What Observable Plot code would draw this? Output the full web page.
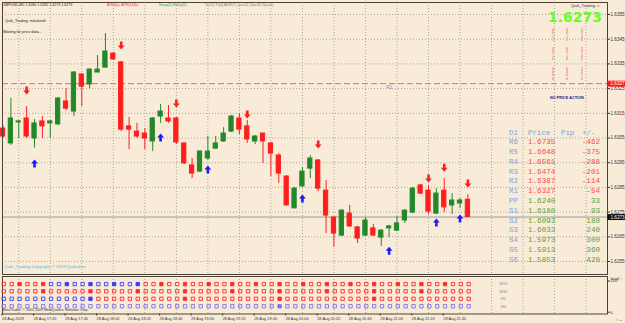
<!DOCTYPE html>
<html><head><meta charset="utf-8">
<script src="https://cdn.jsdelivr.net/npm/d3@7"></script>
<script src="https://cdn.jsdelivr.net/npm/@observablehq/plot@0.6"></script>
<style>
html,body{margin:0;padding:0;background:#f8ecd8;}
#wrap{position:relative;width:625px;height:323px;overflow:hidden;background:#f8ecd8;
 font-family:"Liberation Sans",Arial,sans-serif;}
#wrap svg{position:absolute;left:0;}
.t{position:absolute;white-space:nowrap;line-height:1;}
.m{font-family:"Liberation Mono","DejaVu Sans Mono",monospace;}
</style></head><body><div id="wrap"></div>
<script>
// ---------- data (GBPUSD M5, 28 Aug 2009 17:00 .. 21:55) ----------
const opens  = [1.63088,1.63028,1.63113,1.63129,1.63048,1.63117,1.63109,1.63105,1.63198,1.63157,
                1.63307,1.63267,1.63315,1.63335,1.63392,1.63356,1.63097,1.63076,1.63068,1.63036,
                1.63137,1.63129,1.63129,1.63028,1.62939,1.62914,1.62967,1.63007,1.63036,1.63076,
                1.63129,1.63097,1.63036,1.63068,1.63028,1.62979,1.62894,1.62765,1.62854,1.62926,
                1.62959,1.62837,1.62728,1.62655,1.62744,1.62688,1.62655,1.62684,1.62647,1.62684,
                1.62675,1.62716,1.62748,1.62858,1.62837,1.62744,1.62837,1.62777,1.62785,1.6280];
const highs  = [1.63101,1.63210,1.63121,1.63177,1.63125,1.63137,1.63121,1.63214,1.63250,1.63319,
                1.63311,1.63331,1.63384,1.63473,1.63396,1.63360,1.63133,1.63109,1.63088,1.63133,
                1.63186,1.63182,1.63133,1.63028,1.62967,1.62999,1.63056,1.63056,1.63092,1.63141,
                1.63149,1.63121,1.63060,1.63068,1.63032,1.62987,1.62898,1.62850,1.62930,1.62979,
                1.62963,1.62878,1.62732,1.62760,1.62777,1.62692,1.62728,1.62700,1.62679,1.62696,
                1.62732,1.62760,1.62850,1.62862,1.62858,1.62845,1.62886,1.62825,1.62805,1.6282];
const lows   = [1.63048,1.63020,1.63048,1.63048,1.63009,1.63048,1.63048,1.63101,1.63161,1.63137,
                1.63177,1.63250,1.63315,1.63335,1.63364,1.63076,1.63003,1.63048,1.63003,1.62995,
                1.63109,1.63109,1.63024,1.62943,1.62886,1.62910,1.62959,1.63007,1.63032,1.63072,
                1.63064,1.63028,1.63024,1.62947,1.62894,1.62866,1.62773,1.62765,1.62850,1.62886,
                1.62833,1.62663,1.62607,1.62651,1.62688,1.62623,1.62651,1.62651,1.62611,1.62647,
                1.62671,1.62704,1.62744,1.62821,1.62740,1.62740,1.62748,1.62740,1.62765,1.6273];
const closes = [1.63056,1.63129,1.63117,1.63056,1.63109,1.63097,1.63117,1.63210,1.63169,1.63315,
                1.63258,1.63327,1.63327,1.63400,1.63368,1.63084,1.63084,1.63056,1.63048,1.63129,
                1.63157,1.63117,1.63032,1.62947,1.62906,1.62995,1.62995,1.63028,1.63068,1.63137,
                1.63084,1.63044,1.63056,1.63036,1.62987,1.62906,1.62777,1.62845,1.62914,1.62967,
                1.62845,1.62736,1.62663,1.62756,1.62692,1.62643,1.62716,1.62655,1.62675,1.62692,
                1.62704,1.62756,1.62845,1.62825,1.62752,1.62825,1.62769,1.62797,1.62797,1.6273];

const downArrowBars = [3,15,22,31,40,54,56,59];
const downArrowY    = [1.63242,1.63424,1.63190,1.63145,1.63024,1.62886,1.62930,1.62866];
const upArrowBars   = [4,20,26,38,49,55,58];
const upArrowY      = [1.62947,1.63052,1.62922,1.62805,1.62594,1.62708,1.62724];

const priceTicks = [1.6255,1.6265,1.6275,1.6285,1.6295,1.6305,1.6315,1.6325,1.6335,1.6345,1.6355];
const gridBars   = [2,6,10,14,18,22,26,30,34,38,42,46,50,54,58,62,66,70,74];
const timeTickBars = [0,4,8,12,16,20,24,28,32,36,40,44,48,52,56];
const timeLabels = ["28 Aug 2009","28 Aug 17:20","28 Aug 17:40","28 Aug 18:00","28 Aug 18:20",
  "28 Aug 18:40","28 Aug 19:00","28 Aug 19:20","28 Aug 19:40","28 Aug 20:00","28 Aug 20:20",
  "28 Aug 20:40","28 Aug 21:00","28 Aug 21:20","28 Aug 21:40"];

const R1 = 1.6327, R1LabelBar = 49;
const lastPrice = 1.6273;

// pivot table
const pivotNames  = ["R6","R5","R4","R3","R2","R1","PP","S1","S2","S3","S4","S5","S6"];
const pivotPrices = ["1.6735","1.6648","1.6561","1.6474","1.6387","1.6327","1.6240","1.6180","1.6093","1.6033","1.5973","1.5913","1.5853"];
const pivotPips   = [-462,-375,-288,-201,-114,-54,33,93,180,240,300,360,420];

// lower panel (time-frame boxes)
const tfRows   = ["M15","M30","H1","H4"];
const tfLevels = [90,67,43,19];
const tfColors = [
  "RRRRRRBBBBBBBBBBBBRRRRRRRRRRRRRRRRRRRRRRRRRRRRRRRRRRRRRRRRRR",
  "RRRRRRRRRRRRRRRRRRRRRRRRRRRRRRRRRRRRRRRRRRRRRRRRRRRRRRRRRRRR",
  "BBBBBBBBBBBBRRRRRRRRRRRRRRRRRRRRRRRRRRRRRRRRRRRRRRRRRRRRRRRR",
  "LLLLLLLLLLLLLLLLLLLLLLLLLLLLLLLLLLLLLLLLLLLLLLLLLLLLLLLLLLLL"];
const tfFilled = [
  [2,5,8,11,14,17,20,23,26,29,32,35,38,41,44,47,50,53,56],
  [5,11,17,23,29,35,41,47,53],
  [11,23,35,47],
  [35]];

// ---------- build ----------
const wrap = document.getElementById("wrap");
const GREEN = "#23882a", RED = "#ff1e1e", BLUE = "#1a1aff";
const GRID = "#aaa49b";
const candles = closes.map((c,i)=>({i, open:opens[i], high:highs[i], low:lows[i], close:c, up:c>=opens[i]}));
const downs = downArrowBars.map((b,k)=>({i:b, p:downArrowY[k]}));
const ups = upArrowBars.map((b,k)=>({i:b, p:upArrowY[k]}));

const X0 = 2.5, X59 = 467.4;             // layout of bar axis
const xInv = px => (px - X0) * 59 / (X59 - X0);
const tagX1 = xInv(607.5), tagX2 = xInv(625);

const arrowDown = {draw(ctx, size){ const s=Math.sqrt(size/Math.PI)/3.5;
  ctx.moveTo(-1.3*s,-4*s); ctx.lineTo(1.3*s,-4*s); ctx.lineTo(1.3*s,0); ctx.lineTo(3.4*s,0);
  ctx.lineTo(0,4*s); ctx.lineTo(-3.4*s,0); ctx.lineTo(-1.3*s,0); ctx.closePath(); }};
const arrowUp = {draw(ctx, size){ const s=Math.sqrt(size/Math.PI)/3.5;
  ctx.moveTo(-1.3*s,4*s); ctx.lineTo(1.3*s,4*s); ctx.lineTo(1.3*s,0); ctx.lineTo(3.4*s,0);
  ctx.lineTo(0,-4*s); ctx.lineTo(-3.4*s,0); ctx.lineTo(-1.3*s,0); ctx.closePath(); }};

const font = "Liberation Sans, Arial, sans-serif";
const main = Plot.plot({
  width:625, height:323, marginTop:2, marginLeft:2, marginRight:18, marginBottom:49,
  style:{background:"transparent", fontFamily:font, overflow:"visible"},
  x:{domain:[0,59], range:[X0,X59], axis:null},
  y:{domain:[1.6255,1.6355], range:[261,14], axis:null},
  marks:[
    Plot.ruleY(priceTicks, {stroke:GRID, strokeDasharray:"1,2"}),
    Plot.ruleX(gridBars, {stroke:GRID, strokeDasharray:"1,2"}),
    Plot.ruleY([R1], {stroke:"#ec6a52", strokeDasharray:"6,3"}),
    Plot.ruleY([lastPrice], {stroke:"#9a9896"}),
    Plot.ruleX(candles, {x:"i", y1:"low", y2:"high", stroke:d=>d.up?GREEN:RED, strokeWidth:1}),
    Plot.rect(candles, {x1:d=>d.i-0.27, x2:d=>d.i+0.27, y1:"open", y2:"close",
      fill:d=>d.up?GREEN:RED, stroke:d=>d.up?GREEN:RED, strokeWidth:1}),
    Plot.dot(downs, {x:"i", y:"p", symbol:arrowDown, r:3.5, fill:RED, stroke:"none"}),
    Plot.dot(ups, {x:"i", y:"p", symbol:arrowUp, r:3.5, fill:BLUE, stroke:"none"}),
    Plot.text(["R1"], {x:R1LabelBar, y:R1, text:d=>d, dy:4, fill:"#5b8fd6", fontSize:4.5}),
    Plot.frame({stroke:"#4e4238"}),
    Plot.axisY(priceTicks, {anchor:"right", tickSize:2, tickPadding:1, fontSize:4.6,
      tickFormat:d=>d.toFixed(4), color:"#333"}),
    Plot.ruleY([R1], {x1:tagX1, x2:tagX2, stroke:"#ff1a1a", strokeWidth:6}),
    Plot.text([R1], {x:tagX1, y:d=>d, text:d=>d.toFixed(4), textAnchor:"start", dx:2.5, fill:"white", fontSize:4.6}),
    Plot.ruleY([lastPrice], {x1:tagX1, x2:tagX2, stroke:"#111", strokeWidth:6}),
    Plot.text([lastPrice], {x:tagX1, y:d=>d, text:d=>d.toFixed(4), textAnchor:"start", dx:2.5, fill:"white", fontSize:4.6})
  ]
});
main.style.top = "0px";
wrap.appendChild(main);

const squares = [];
tfRows.forEach((row,r)=>{
  for (let i=0;i<tfColors[r].length;i++){
    const c = tfColors[r][i];
    const col = c==="R" ? "#ff2a2a" : c==="B" ? "#3a3aff" : "#7a72f0";
    squares.push({i, level:tfLevels[r], col, filled:tfFilled[r].includes(i)});
  }
});
const sub = Plot.plot({
  width:625, height:49, marginTop:2, marginLeft:2, marginRight:18, marginBottom:9.5,
  style:{background:"transparent", fontFamily:font, overflow:"visible"},
  x:{domain:[0,59], range:[X0,X59], axis:null},
  y:{domain:[0,100], range:[37.7,6.5], axis:null},
  marks:[
    Plot.ruleX(gridBars, {stroke:GRID, strokeDasharray:"1,2"}),
    Plot.frame({stroke:"#4e4238"}),
    Plot.dot(squares, {x:"i", y:"level", symbol:"square", r:1.9, dx:0.8,
      stroke:"col", fill:d=>d.filled?d.col:"none", strokeWidth:0.9}),
    Plot.text(tfRows, {x:63.5, y:(d,k)=>tfLevels[k], text:d=>d, fill:"#8d8d8d", fontSize:4.2}),
    Plot.axisY([0,100], {anchor:"right", tickSize:2, tickPadding:1, fontSize:4.2, color:"#333"}),
    Plot.axisX(timeTickBars, {anchor:"bottom", tickSize:2, tickPadding:1, textAnchor:"start", dx:-1,
      fontSize:3.9, tickFormat:d=>timeLabels[timeTickBars.indexOf(d)], color:"#333"})
  ]
});
sub.style.top = "274px";
wrap.appendChild(sub);

// ---------- text overlays ----------
function T(txt, x, yc, size, color, cls, extra){
  const d = document.createElement("div");
  d.className = "t" + (cls?(" "+cls):"");
  d.textContent = txt;
  d.style.left = x+"px"; d.style.top = (yc - size*0.55)+"px";
  d.style.fontSize = size+"px"; d.style.color = color;
  if (extra) Object.assign(d.style, extra);
  wrap.appendChild(d); return d;
}
T("GBPUSD,M5  1.6280 1.6282 1.6273 1.6273", 3, 5.5, 3.6, "#222");
T("ATR(6)=  ATR(144)=", 107, 5.5, 3.6, "#ff2a2a");
T("Reup(5)  ReDp(5)", 159, 5.5, 3.6, "#2f9a2f");
T("Tr(12)  Tr(4)  ADR(7)  1(avr5)  1(avr3)  2(avr5)", 205, 5.5, 3.6, "#777");
T("Quik_Trading: initialized", 5, 22.5, 3.8, "#222");
T("Waiting for price data...", 3, 33.5, 3.8, "#222");
T("Quik_Trading \u263A", 571, 6, 4, "#333");
T("1.6273", 548, 17.5, 14, "#66ff22", null, {fontFamily:"DejaVu Sans", fontWeight:"bold"});
T("NO PRICE ACTION", 550, 99.5, 3.8, "#22227a", null, {fontWeight:"bold"});
T("Quik_Trading  Copyright \u00A9 2009 Quiksilver", 4, 267, 4.4, "#3fbde6");
T("MetaTrader, \u00A9 2001-2009 MetaQuotes Software Corp.", 2, 311, 3.6, "#333");

// small signal digits block (top right)
const digitCols = [553, 567, 582];
const digitRows = [31,34,38,41, 50,53,57,60, 70,73,76,80];
const digitText = [["0","0","1","1","0","0","1","0","0","0","0","0"],
                   ["0","0","1","1","0","0","1","0","0","0","0","0"],
                   ["2","2","2","2","2","2","2","2","2","2","2","2"]];
const digitColor= [["r","r","g","g","r","r","g","r","r","r","r","r"],
                   ["r","r","g","g","r","r","g","r","r","r","r","r"],
                   ["r","r","r","r","r","r","r","r","r","r","r","r"]];
digitCols.forEach((x,c)=>digitRows.forEach((y,r)=>{
  T(digitText[c][r], x-1, y, 3.6, digitColor[c][r]==="g"?"#33cc33":"#ff3030");
}));

// pivot table
const hdrY = 134, rowY0 = 143.3, rowDy = 9.8;
T("D1", 509, hdrY, 7.4, "#7aa2d6", "m");
T("Price", 528, hdrY, 7.4, "#7aa2d6", "m");
T("Pip", 561, hdrY, 7.4, "#7aa2d6", "m");
T("+/-", 582, hdrY, 7.4, "#7aa2d6", "m");
pivotNames.forEach((n,k)=>{
  const y = rowY0 + k*rowDy;
  const col = pivotPips[k] < 0 ? "#ff4a4a" : "#5fa23a";
  T(n, 509, y, 7.4, "#7aa2d6", "m");
  T(pivotPrices[k], 528, y, 7.6, col, "m");
  const d = T(String(pivotPips[k]), 0, y, 7.6, col, "m", {textAlign:"right", width:"30px"});
  d.style.left = (600-30)+"px";
});
</script></body></html>
